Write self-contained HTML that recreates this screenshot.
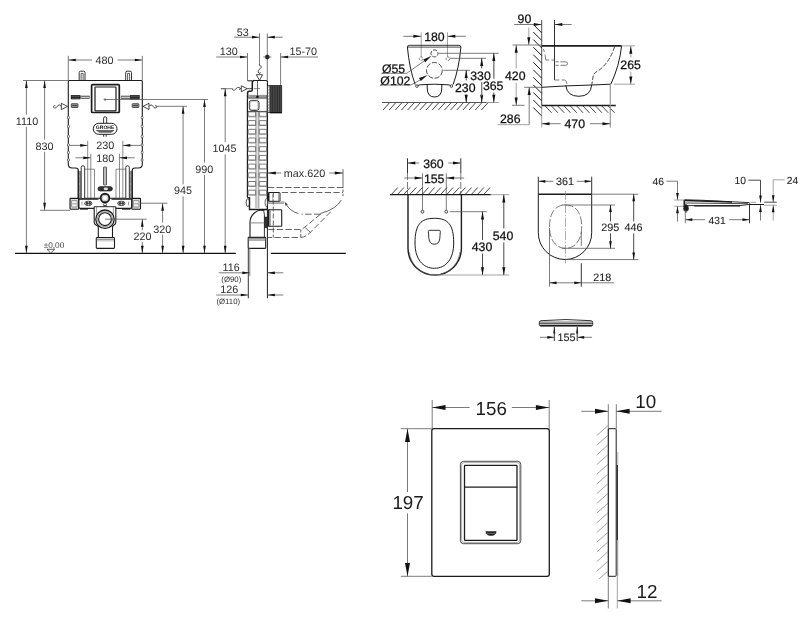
<!DOCTYPE html>
<html><head><meta charset="utf-8"><title>Dimensions</title>
<style>
html,body{margin:0;padding:0;background:#fff;}
body{width:804px;height:630px;overflow:hidden;}
svg{display:block;filter:grayscale(1);font-family:"Liberation Sans",sans-serif;}
text{text-rendering:geometricPrecision;}
</style></head><body>
<svg width="804" height="630" viewBox="0 0 804 630">
<rect x="0" y="0" width="804" height="630" fill="#ffffff"/>
<g id="v1">
<line x1="15.00" y1="253.30" x2="235.80" y2="253.30" stroke="#111" stroke-width="1.3" />
<line x1="270.80" y1="253.30" x2="345.80" y2="253.30" stroke="#111" stroke-width="1.3" />
<line x1="68.30" y1="55.80" x2="68.30" y2="80.50" stroke="#5a5a5a" stroke-width="0.8" />
<line x1="142.30" y1="55.80" x2="142.30" y2="80.50" stroke="#5a5a5a" stroke-width="0.8" />
<line x1="68.30" y1="60.00" x2="92.00" y2="60.00" stroke="#5a5a5a" stroke-width="0.8" />
<line x1="117.50" y1="60.00" x2="142.30" y2="60.00" stroke="#5a5a5a" stroke-width="0.8" />
<polygon points="68.30,60.00 75.80,58.65 75.80,61.35" fill="#111"/>
<polygon points="142.30,60.00 134.80,58.65 134.80,61.35" fill="#111"/>
<text x="104.60" y="63.77" font-size="10.8" text-anchor="middle" fill="#2e2e2e"  >480</text>
<path d="M69.3,80.5 H141.3 Q142.3,80.5 142.3,81.5 V164 Q142.3,168 138.3,168 H135 Q132.2,168 132.2,170.5 V198.3 H78.3 V170.5 Q78.3,168 75.5,168 H72.3 Q68.3,168 68.3,164 V81.5 Q68.3,80.5 69.3,80.5 Z" stroke="#1c1c1c" stroke-width="1.1" fill="none" />
<ellipse cx="68.5" cy="117.5" rx="1.0" ry="1.4" fill="#fff" stroke="#1c1c1c" stroke-width="0.6"/>
<ellipse cx="142.1" cy="117.5" rx="1.0" ry="1.4" fill="#fff" stroke="#1c1c1c" stroke-width="0.6"/>
<ellipse cx="68.5" cy="126.5" rx="1.0" ry="1.4" fill="#fff" stroke="#1c1c1c" stroke-width="0.6"/>
<ellipse cx="142.1" cy="126.5" rx="1.0" ry="1.4" fill="#fff" stroke="#1c1c1c" stroke-width="0.6"/>
<ellipse cx="68.5" cy="136.5" rx="1.0" ry="1.4" fill="#fff" stroke="#1c1c1c" stroke-width="0.6"/>
<ellipse cx="142.1" cy="136.5" rx="1.0" ry="1.4" fill="#fff" stroke="#1c1c1c" stroke-width="0.6"/>
<ellipse cx="68.5" cy="145" rx="1.0" ry="1.4" fill="#fff" stroke="#1c1c1c" stroke-width="0.6"/>
<ellipse cx="142.1" cy="145" rx="1.0" ry="1.4" fill="#fff" stroke="#1c1c1c" stroke-width="0.6"/>
<ellipse cx="68.5" cy="152.5" rx="1.0" ry="1.4" fill="#fff" stroke="#1c1c1c" stroke-width="0.6"/>
<ellipse cx="142.1" cy="152.5" rx="1.0" ry="1.4" fill="#fff" stroke="#1c1c1c" stroke-width="0.6"/>
<ellipse cx="68.5" cy="160" rx="1.0" ry="1.4" fill="#fff" stroke="#1c1c1c" stroke-width="0.6"/>
<ellipse cx="142.1" cy="160" rx="1.0" ry="1.4" fill="#fff" stroke="#1c1c1c" stroke-width="0.6"/>
<path d="M79.2,80.5 V72.5 Q79.2,71.2 80.5,71.2 H83.7 Q85.0,71.2 85.0,72.5 V80.5" stroke="#1c1c1c" stroke-width="0.9" fill="none" />
<path d="M81.10000000000001,80 V73.4 H83.10000000000001 V80" stroke="#1c1c1c" stroke-width="0.7" fill="none" />
<path d="M125.7,80.5 V72.5 Q125.7,71.2 127.0,71.2 H130.2 Q131.5,71.2 131.5,72.5 V80.5" stroke="#1c1c1c" stroke-width="0.9" fill="none" />
<path d="M127.60000000000001,80 V73.4 H129.6 V80" stroke="#1c1c1c" stroke-width="0.7" fill="none" />
<rect x="91.60" y="84.60" width="27.70" height="27.90" rx="1.0" stroke="#1c1c1c" stroke-width="1.7" fill="#fff" />
<rect x="95.00" y="87.00" width="21.00" height="23.90" rx="0.6" stroke="#1c1c1c" stroke-width="1.2" fill="#fff" />
<line x1="100.20" y1="85.60" x2="100.20" y2="86.40" stroke="#8a8a8a" stroke-width="0.6" />
<line x1="100.20" y1="111.20" x2="100.20" y2="111.90" stroke="#8a8a8a" stroke-width="0.6" />
<line x1="107.80" y1="85.60" x2="107.80" y2="86.40" stroke="#8a8a8a" stroke-width="0.6" />
<line x1="107.80" y1="111.20" x2="107.80" y2="111.90" stroke="#8a8a8a" stroke-width="0.6" />
<line x1="103.60" y1="99.50" x2="208.00" y2="99.50" stroke="#5a5a5a" stroke-width="0.8" />
<line x1="105.00" y1="98.00" x2="105.00" y2="101.00" stroke="#5a5a5a" stroke-width="0.8" />
<line x1="80.40" y1="97.20" x2="89.60" y2="97.20" stroke="#1c1c1c" stroke-width="2.9" />
<line x1="80.40" y1="97.20" x2="89.30" y2="97.20" stroke="#e8e8e8" stroke-width="1.3" />
<line x1="70.80" y1="97.20" x2="80.40" y2="97.20" stroke="#1a1a1a" stroke-width="4.2" />
<line x1="71.60" y1="96.40" x2="79.60" y2="96.40" stroke="#888" stroke-width="0.5" />
<line x1="71.60" y1="98.20" x2="79.60" y2="98.20" stroke="#888" stroke-width="0.5" />
<line x1="130.10" y1="97.20" x2="120.90" y2="97.20" stroke="#1c1c1c" stroke-width="2.9" />
<line x1="130.10" y1="97.20" x2="121.20" y2="97.20" stroke="#e8e8e8" stroke-width="1.3" />
<line x1="139.70" y1="97.20" x2="130.10" y2="97.20" stroke="#1a1a1a" stroke-width="4.2" />
<line x1="138.90" y1="96.40" x2="130.90" y2="96.40" stroke="#888" stroke-width="0.5" />
<line x1="138.90" y1="98.20" x2="130.90" y2="98.20" stroke="#888" stroke-width="0.5" />
<rect x="71.30" y="103.70" width="6.70" height="3.80" rx="0.6" stroke="#1c1c1c" stroke-width="0.7" fill="#999" />
<line x1="72.20" y1="105.60" x2="77.00" y2="105.60" stroke="#1c1c1c" stroke-width="0.7" />
<rect x="132.20" y="103.70" width="6.70" height="3.80" rx="0.6" stroke="#1c1c1c" stroke-width="0.7" fill="#999" />
<line x1="133.10" y1="105.60" x2="137.90" y2="105.60" stroke="#1c1c1c" stroke-width="0.7" />
<path d="M67.6,106.4 L61.3,103.3 V109.6 Z" stroke="#1c1c1c" stroke-width="0.8" fill="#fff" />
<path d="M61.3,106.4 C59.8,104.4 58.4,104.6 57.4,106.2 C56.4,108 54.4,108.6 53.6,107.4 C53,106.2 54.2,105.2 55.4,105.8" stroke="#1c1c1c" stroke-width="0.8" fill="none" />
<path d="M143,106.4 L149,103.3 V109.6 Z" stroke="#1c1c1c" stroke-width="0.8" fill="#fff" />
<path d="M149,106.4 C150.5,104.4 151.9,104.6 152.9,106.2 C153.9,108 155.9,108.6 156.7,107.4 C157.3,106.2 156.1,105.2 154.9,105.8" stroke="#1c1c1c" stroke-width="0.8" fill="none" />
<line x1="156.40" y1="106.30" x2="187.00" y2="106.30" stroke="#5a5a5a" stroke-width="0.8" />
<path d="M103.6,123.3 V118.2 Q103.6,116.8 105.1,116.8 Q106.7,116.8 106.7,118.2 V123.3" stroke="#1c1c1c" stroke-width="0.9" fill="#fff" />
<line x1="103.70" y1="134.20" x2="103.70" y2="136.80" stroke="#1c1c1c" stroke-width="0.9" />
<line x1="106.20" y1="134.20" x2="106.20" y2="136.80" stroke="#1c1c1c" stroke-width="0.9" />
<rect x="93.30" y="123.30" width="23.70" height="11.00" rx="5.4" stroke="#1c1c1c" stroke-width="1.0" fill="#fff" />
<text x="105.10" y="128.79" font-size="5.0" text-anchor="middle" fill="#111"  font-weight="bold" textLength="18.6" lengthAdjust="spacingAndGlyphs">GROHE</text>
<path d="M96.4,130.4 H113.9 L111.2,132.2 H99.4 Z" stroke="#1c1c1c" stroke-width="0.5" fill="#333" />
<line x1="98.00" y1="131.30" x2="112.40" y2="131.30" stroke="#ddd" stroke-width="0.35" />
<line x1="87.70" y1="140.80" x2="87.70" y2="198.00" stroke="#5a5a5a" stroke-width="0.7" />
<line x1="122.80" y1="140.80" x2="122.80" y2="198.00" stroke="#5a5a5a" stroke-width="0.7" />
<line x1="70.00" y1="145.40" x2="87.70" y2="145.40" stroke="#5a5a5a" stroke-width="0.8" />
<line x1="122.80" y1="145.40" x2="140.80" y2="145.40" stroke="#5a5a5a" stroke-width="0.8" />
<polygon points="87.70,145.40 80.20,144.05 80.20,146.75" fill="#111"/>
<polygon points="122.80,145.40 130.30,144.05 130.30,146.75" fill="#111"/>
<text x="105.20" y="149.47" font-size="10.8" text-anchor="middle" fill="#2e2e2e"  >230</text>
<line x1="90.80" y1="153.80" x2="90.80" y2="198.00" stroke="#5a5a5a" stroke-width="0.7" />
<line x1="119.50" y1="153.80" x2="119.50" y2="198.00" stroke="#5a5a5a" stroke-width="0.7" />
<line x1="75.50" y1="157.80" x2="90.80" y2="157.80" stroke="#5a5a5a" stroke-width="0.8" />
<line x1="119.50" y1="157.80" x2="134.70" y2="157.80" stroke="#5a5a5a" stroke-width="0.8" />
<polygon points="90.80,157.80 83.30,156.45 83.30,159.15" fill="#111"/>
<polygon points="119.50,157.80 127.00,156.45 127.00,159.15" fill="#111"/>
<text x="105.30" y="161.87" font-size="10.8" text-anchor="middle" fill="#2e2e2e"  >180</text>
<rect x="78.30" y="171.00" width="2.70" height="27.00" rx="0" stroke="none" stroke-width="0" fill="#8c8c8c" />
<line x1="78.30" y1="170.50" x2="78.30" y2="198.00" stroke="#1c1c1c" stroke-width="1.2" />
<circle cx="79.70" cy="176.00" r="0.45" stroke="none" stroke-width="0" fill="#fff" />
<circle cx="79.70" cy="184.00" r="0.45" stroke="none" stroke-width="0" fill="#fff" />
<circle cx="79.70" cy="192.00" r="0.45" stroke="none" stroke-width="0" fill="#fff" />
<path d="M81.2,198 V167.4 Q81.2,165.8 82.95,165.8 Q84.7,165.8 84.7,167.4 V198" stroke="#1c1c1c" stroke-width="0.9" fill="#fff" />
<line x1="94.50" y1="169.20" x2="94.50" y2="198.00" stroke="#5a5a5a" stroke-width="0.7" />
<line x1="84.70" y1="169.20" x2="94.50" y2="169.20" stroke="#5a5a5a" stroke-width="0.7" />
<rect x="129.50" y="171.00" width="2.70" height="27.00" rx="0" stroke="none" stroke-width="0" fill="#8c8c8c" />
<line x1="132.20" y1="170.50" x2="132.20" y2="198.00" stroke="#1c1c1c" stroke-width="1.2" />
<circle cx="130.80" cy="176.00" r="0.45" stroke="none" stroke-width="0" fill="#fff" />
<circle cx="130.80" cy="184.00" r="0.45" stroke="none" stroke-width="0" fill="#fff" />
<circle cx="130.80" cy="192.00" r="0.45" stroke="none" stroke-width="0" fill="#fff" />
<path d="M129.29999999999998,198 V167.4 Q129.29999999999998,165.8 127.54999999999998,165.8 Q125.79999999999998,165.8 125.79999999999998,167.4 V198" stroke="#1c1c1c" stroke-width="0.9" fill="#fff" />
<line x1="116.00" y1="169.20" x2="116.00" y2="198.00" stroke="#5a5a5a" stroke-width="0.7" />
<line x1="125.80" y1="169.20" x2="116.00" y2="169.20" stroke="#5a5a5a" stroke-width="0.7" />
<rect x="103.50" y="167.00" width="3.00" height="18.00" rx="0.5" stroke="#1c1c1c" stroke-width="0.7" fill="#e4e4e4" />
<line x1="105.00" y1="167.50" x2="105.00" y2="184.60" stroke="#5a5a5a" stroke-width="0.6" />
<rect x="98.00" y="186.70" width="14.40" height="4.20" rx="2.1" stroke="#1c1c1c" stroke-width="0.8" fill="#333" />
<rect x="104.00" y="187.70" width="3.60" height="2.20" rx="0.6" stroke="#fff" stroke-width="0.3" fill="#ddd" />
<circle cx="105.00" cy="198.00" r="4.30" stroke="#1c1c1c" stroke-width="1.9" fill="#fff" />
<circle cx="105.00" cy="198.00" r="2.60" stroke="#8a8a8a" stroke-width="0.5" fill="#fff" />
<rect x="70.00" y="198.40" width="8.70" height="10.80" rx="0.6" stroke="#1c1c1c" stroke-width="1.1" fill="#d8d8d8" />
<rect x="131.80" y="198.40" width="8.70" height="10.80" rx="0.6" stroke="#1c1c1c" stroke-width="1.1" fill="#d8d8d8" />
<rect x="71.60" y="200.60" width="5.50" height="6.40" rx="0.4" stroke="#5a5a5a" stroke-width="0.6" fill="#f2f2f2" />
<line x1="72.50" y1="203.80" x2="76.20" y2="203.80" stroke="#5a5a5a" stroke-width="0.6" />
<rect x="133.40" y="200.60" width="5.50" height="6.40" rx="0.4" stroke="#5a5a5a" stroke-width="0.6" fill="#f2f2f2" />
<line x1="134.30" y1="203.80" x2="138.00" y2="203.80" stroke="#5a5a5a" stroke-width="0.6" />
<path d="M78.7,199.2 H98.5 M111.5,199.2 H131.8 V207 Q131.8,208.4 130.2,208.4 H116 M94,208.4 H80.3 Q78.7,208.4 78.7,207 V199.2" stroke="#1c1c1c" stroke-width="1.2" fill="none" />
<line x1="80.00" y1="209.30" x2="88.00" y2="209.30" stroke="#1c1c1c" stroke-width="0.8" />
<line x1="122.00" y1="209.30" x2="130.50" y2="209.30" stroke="#1c1c1c" stroke-width="0.8" />
<ellipse cx="88.3" cy="203.4" rx="3.7" ry="2.2" fill="#fff" stroke="#1c1c1c" stroke-width="0.8"/>
<circle cx="87.00" cy="203.40" r="1.10" stroke="#1c1c1c" stroke-width="0.6" fill="#444" />
<circle cx="89.70" cy="203.40" r="1.10" stroke="#1c1c1c" stroke-width="0.6" fill="#444" />
<ellipse cx="121.3" cy="203.4" rx="3.7" ry="2.2" fill="#fff" stroke="#1c1c1c" stroke-width="0.8"/>
<circle cx="120.00" cy="203.40" r="1.10" stroke="#1c1c1c" stroke-width="0.6" fill="#444" />
<circle cx="122.70" cy="203.40" r="1.10" stroke="#1c1c1c" stroke-width="0.6" fill="#444" />
<line x1="82.00" y1="201.60" x2="82.00" y2="205.40" stroke="#5a5a5a" stroke-width="0.6" />
<line x1="128.50" y1="201.60" x2="128.50" y2="205.40" stroke="#5a5a5a" stroke-width="0.6" />
<path d="M94.2,206.7 V222.5 Q94.2,224 96,225 L98.3,226.5 V237.5 M115.8,206.7 V222.5 Q115.8,224 114,225 L112.5,226.5 V237.5" stroke="#1c1c1c" stroke-width="1.1" fill="none" />
<line x1="96.60" y1="206.70" x2="96.60" y2="214.00" stroke="#5a5a5a" stroke-width="0.6" />
<line x1="113.40" y1="206.70" x2="113.40" y2="214.00" stroke="#5a5a5a" stroke-width="0.6" />
<line x1="94.20" y1="206.70" x2="115.80" y2="206.70" stroke="#1c1c1c" stroke-width="0.9" />
<circle cx="105.00" cy="204.60" r="1.50" stroke="#1c1c1c" stroke-width="0.7" fill="#fff" />
<path d="M102.6,206.6 q2.4,-2.2 4.8,0" stroke="#1c1c1c" stroke-width="0.7" fill="none" />
<circle cx="105.00" cy="219.20" r="9.20" stroke="#1c1c1c" stroke-width="1.3" fill="#fff" />
<circle cx="105.00" cy="219.20" r="7.60" stroke="#5a5a5a" stroke-width="0.6" fill="none" />
<circle cx="105.00" cy="219.20" r="6.40" stroke="#1c1c1c" stroke-width="1.1" fill="#fff" />
<rect x="96.30" y="237.50" width="18.20" height="10.90" rx="0.8" stroke="#1c1c1c" stroke-width="1.1" fill="#fff" />
<line x1="96.30" y1="239.20" x2="114.50" y2="239.20" stroke="#5a5a5a" stroke-width="0.9" />
<line x1="96.80" y1="240.80" x2="114.00" y2="240.80" stroke="#8a8a8a" stroke-width="0.6" />
<line x1="105.00" y1="219.20" x2="146.70" y2="219.20" stroke="#5a5a5a" stroke-width="0.8" />
<line x1="142.30" y1="219.20" x2="142.30" y2="230.20" stroke="#5a5a5a" stroke-width="0.8" />
<line x1="142.30" y1="242.20" x2="142.30" y2="253.30" stroke="#5a5a5a" stroke-width="0.8" />
<polygon points="142.30,219.20 140.95,226.70 143.65,226.70" fill="#111"/>
<polygon points="142.30,253.30 140.95,245.80 143.65,245.80" fill="#111"/>
<text x="142.40" y="240.47" font-size="10.8" text-anchor="middle" fill="#2e2e2e"  >220</text>
<line x1="140.50" y1="203.20" x2="167.50" y2="203.20" stroke="#5a5a5a" stroke-width="0.8" />
<line x1="162.60" y1="203.20" x2="162.60" y2="222.60" stroke="#5a5a5a" stroke-width="0.8" />
<line x1="162.60" y1="234.60" x2="162.60" y2="253.30" stroke="#5a5a5a" stroke-width="0.8" />
<polygon points="162.60,203.20 161.25,210.70 163.95,210.70" fill="#111"/>
<polygon points="162.60,253.30 161.25,245.80 163.95,245.80" fill="#111"/>
<text x="162.20" y="232.67" font-size="10.8" text-anchor="middle" fill="#2e2e2e"  >320</text>
<line x1="23.00" y1="80.50" x2="68.30" y2="80.50" stroke="#5a5a5a" stroke-width="0.8" />
<line x1="40.00" y1="210.30" x2="70.00" y2="210.30" stroke="#5a5a5a" stroke-width="0.8" />
<line x1="44.60" y1="80.50" x2="44.60" y2="139.60" stroke="#5a5a5a" stroke-width="0.8" />
<line x1="44.60" y1="151.80" x2="44.60" y2="210.30" stroke="#5a5a5a" stroke-width="0.8" />
<polygon points="44.60,80.50 43.25,88.00 45.95,88.00" fill="#111"/>
<polygon points="44.60,210.30 43.25,202.80 45.95,202.80" fill="#111"/>
<text x="44.60" y="149.67" font-size="10.8" text-anchor="middle" fill="#2e2e2e"  >830</text>
<line x1="26.40" y1="80.50" x2="26.40" y2="114.60" stroke="#5a5a5a" stroke-width="0.8" />
<line x1="26.40" y1="126.80" x2="26.40" y2="253.30" stroke="#5a5a5a" stroke-width="0.8" />
<polygon points="26.40,80.50 25.05,88.00 27.75,88.00" fill="#111"/>
<polygon points="26.40,253.30 25.05,245.80 27.75,245.80" fill="#111"/>
<text x="27.00" y="124.67" font-size="10.8" text-anchor="middle" fill="#2e2e2e"  >1110</text>
<text x="54.00" y="248.17" font-size="8.3" text-anchor="middle" fill="#444"  >±0,00</text>
<path d="M47,249.3 H54.6 L50.8,253 Z" stroke="#1c1c1c" stroke-width="0.7" fill="#fff" />
<line x1="183.10" y1="106.30" x2="183.10" y2="184.40" stroke="#5a5a5a" stroke-width="0.8" />
<line x1="183.10" y1="196.40" x2="183.10" y2="253.30" stroke="#5a5a5a" stroke-width="0.8" />
<polygon points="183.10,106.30 181.75,113.80 184.45,113.80" fill="#111"/>
<polygon points="183.10,253.30 181.75,245.80 184.45,245.80" fill="#111"/>
<text x="182.90" y="194.37" font-size="10.8" text-anchor="middle" fill="#2e2e2e"  >945</text>
<line x1="204.50" y1="99.50" x2="204.50" y2="162.60" stroke="#5a5a5a" stroke-width="0.8" />
<line x1="204.50" y1="174.80" x2="204.50" y2="253.30" stroke="#5a5a5a" stroke-width="0.8" />
<polygon points="204.50,99.50 203.15,107.00 205.85,107.00" fill="#111"/>
<polygon points="204.50,253.30 203.15,245.80 205.85,245.80" fill="#111"/>
<text x="204.30" y="172.67" font-size="10.8" text-anchor="middle" fill="#2e2e2e"  >990</text>
</g>
<g id="v2">
<line x1="234.20" y1="37.20" x2="259.50" y2="37.20" stroke="#5a5a5a" stroke-width="0.8" />
<polygon points="259.50,37.20 252.00,35.85 252.00,38.55" fill="#111"/>
<line x1="267.30" y1="37.20" x2="282.80" y2="37.20" stroke="#5a5a5a" stroke-width="0.8" />
<polygon points="267.30,37.20 274.80,35.85 274.80,38.55" fill="#111"/>
<line x1="259.50" y1="33.30" x2="259.50" y2="64.20" stroke="#5a5a5a" stroke-width="0.8" />
<line x1="267.30" y1="33.30" x2="267.30" y2="95.00" stroke="#5a5a5a" stroke-width="0.8" />
<text x="242.70" y="35.87" font-size="10.8" text-anchor="middle" fill="#2e2e2e"  >53</text>
<line x1="216.20" y1="57.00" x2="247.50" y2="57.00" stroke="#5a5a5a" stroke-width="0.8" />
<polygon points="247.50,57.00 240.00,55.65 240.00,58.35" fill="#111"/>
<line x1="247.50" y1="53.00" x2="247.50" y2="80.80" stroke="#5a5a5a" stroke-width="0.8" />
<text x="228.70" y="55.47" font-size="10.8" text-anchor="middle" fill="#2e2e2e"  >130</text>
<circle cx="267.30" cy="57.00" r="2.10" stroke="#1c1c1c" stroke-width="0.5" fill="#111" />
<line x1="263.20" y1="57.00" x2="271.40" y2="57.00" stroke="#5a5a5a" stroke-width="0.7" />
<line x1="280.60" y1="57.00" x2="318.00" y2="57.00" stroke="#5a5a5a" stroke-width="0.8" />
<polygon points="280.60,57.00 288.10,55.65 288.10,58.35" fill="#111"/>
<line x1="280.60" y1="53.00" x2="280.60" y2="85.80" stroke="#5a5a5a" stroke-width="0.8" />
<text x="303.30" y="55.27" font-size="10.8" text-anchor="middle" fill="#2e2e2e"  >15-70</text>
<path d="M259.5,64.2 V65.4 C261.6,65.6 261.8,67.6 260.2,68.6 C258.4,69.8 257.6,71.6 258.6,73 C259.4,74 260.6,73.4 260.4,72.2" stroke="#1c1c1c" stroke-width="0.8" fill="none" />
<path d="M256.3,74.7 H262.6 L259.5,80.3 Z" stroke="#1c1c1c" stroke-width="0.8" fill="#fff" />
<line x1="221.20" y1="88.70" x2="232.50" y2="88.70" stroke="#5a5a5a" stroke-width="0.8" />
<path d="M232.5,88.7 C232.2,90.6 234.4,90.8 235.6,89.2 C236.8,87.4 238.6,86.8 239.8,87.8 C240.6,88.6 240,89.6 239,89.4 M240.2,88.7 H241.3" stroke="#1c1c1c" stroke-width="0.8" fill="none" />
<path d="M241.3,85.8 V91.7 L247.2,88.7 Z" stroke="#1c1c1c" stroke-width="0.8" fill="#fff" />
<line x1="247.20" y1="88.70" x2="253.00" y2="88.70" stroke="#1c1c1c" stroke-width="0.8" />
<path d="M247.5,80.8 H252 M254.2,80.5 H265.9 Q267.5,80.5 267.5,82.2 V95" stroke="#1c1c1c" stroke-width="1.0" fill="none" />
<path d="M254.4,80.5 Q252.3,80.5 252.3,82.4 V89.8 Q252.3,91.2 250.9,91.2 H249.2 Q247.6,91.2 247.6,92.8 V95" stroke="#1c1c1c" stroke-width="1.5" fill="none" />
<line x1="257.50" y1="80.60" x2="257.50" y2="98.00" stroke="#1c1c1c" stroke-width="0.7" />
<line x1="253.80" y1="88.60" x2="260.00" y2="88.60" stroke="#5a5a5a" stroke-width="0.7" />
<line x1="247.40" y1="95.00" x2="247.40" y2="197.60" stroke="#1c1c1c" stroke-width="1.2" />
<line x1="267.40" y1="95.00" x2="267.40" y2="298.30" stroke="#1c1c1c" stroke-width="1.0" />
<line x1="267.40" y1="95.00" x2="267.40" y2="209.00" stroke="#1c1c1c" stroke-width="1.3" />
<line x1="247.40" y1="95.40" x2="267.40" y2="95.40" stroke="#5a5a5a" stroke-width="0.7" />
<line x1="247.40" y1="98.60" x2="267.40" y2="98.60" stroke="#5a5a5a" stroke-width="0.7" />
<line x1="247.40" y1="97.05" x2="267.40" y2="97.05" stroke="#1c1c1c" stroke-width="1.0" />
<circle cx="257.40" cy="96.90" r="1.10" stroke="#1c1c1c" stroke-width="0.4" fill="#111" />
<rect x="249.30" y="100.40" width="9.70" height="10.00" rx="2.3" stroke="#1c1c1c" stroke-width="0.9" fill="#fff" />
<rect x="250.20" y="101.20" width="8.00" height="8.40" rx="1.8" stroke="#8a8a8a" stroke-width="0.5" fill="none" />
<line x1="256.00" y1="111.50" x2="256.00" y2="208.00" stroke="#5a5a5a" stroke-width="0.7" />
<line x1="258.80" y1="111.50" x2="258.80" y2="208.00" stroke="#5a5a5a" stroke-width="0.7" />
<line x1="257.40" y1="98.60" x2="257.40" y2="208.00" stroke="#b5b5b5" stroke-width="0.5" />
<line x1="247.40" y1="111.40" x2="267.40" y2="111.40" stroke="#1c1c1c" stroke-width="0.8" />
<rect x="248.20" y="111.90" width="7.50" height="4.90" rx="0.3" stroke="#5a5a5a" stroke-width="0.8" fill="none" />
<rect x="259.20" y="111.90" width="7.60" height="4.90" rx="0.3" stroke="#5a5a5a" stroke-width="0.8" fill="none" />
<line x1="248.60" y1="116.20" x2="255.30" y2="116.20" stroke="#8a8a8a" stroke-width="0.6" />
<line x1="259.60" y1="116.20" x2="266.40" y2="116.20" stroke="#8a8a8a" stroke-width="0.6" />
<rect x="248.20" y="120.60" width="7.50" height="4.90" rx="0.3" stroke="#5a5a5a" stroke-width="0.8" fill="none" />
<rect x="259.20" y="120.60" width="7.60" height="4.90" rx="0.3" stroke="#5a5a5a" stroke-width="0.8" fill="none" />
<line x1="248.60" y1="124.90" x2="255.30" y2="124.90" stroke="#8a8a8a" stroke-width="0.6" />
<line x1="259.60" y1="124.90" x2="266.40" y2="124.90" stroke="#8a8a8a" stroke-width="0.6" />
<rect x="248.20" y="129.30" width="7.50" height="4.90" rx="0.3" stroke="#5a5a5a" stroke-width="0.8" fill="none" />
<rect x="259.20" y="129.30" width="7.60" height="4.90" rx="0.3" stroke="#5a5a5a" stroke-width="0.8" fill="none" />
<line x1="248.60" y1="133.60" x2="255.30" y2="133.60" stroke="#8a8a8a" stroke-width="0.6" />
<line x1="259.60" y1="133.60" x2="266.40" y2="133.60" stroke="#8a8a8a" stroke-width="0.6" />
<rect x="248.20" y="138.00" width="7.50" height="4.90" rx="0.3" stroke="#5a5a5a" stroke-width="0.8" fill="none" />
<rect x="259.20" y="138.00" width="7.60" height="4.90" rx="0.3" stroke="#5a5a5a" stroke-width="0.8" fill="none" />
<line x1="248.60" y1="142.30" x2="255.30" y2="142.30" stroke="#8a8a8a" stroke-width="0.6" />
<line x1="259.60" y1="142.30" x2="266.40" y2="142.30" stroke="#8a8a8a" stroke-width="0.6" />
<rect x="248.20" y="146.70" width="7.50" height="4.90" rx="0.3" stroke="#5a5a5a" stroke-width="0.8" fill="none" />
<rect x="259.20" y="146.70" width="7.60" height="4.90" rx="0.3" stroke="#5a5a5a" stroke-width="0.8" fill="none" />
<line x1="248.60" y1="151.00" x2="255.30" y2="151.00" stroke="#8a8a8a" stroke-width="0.6" />
<line x1="259.60" y1="151.00" x2="266.40" y2="151.00" stroke="#8a8a8a" stroke-width="0.6" />
<rect x="248.20" y="155.40" width="7.50" height="4.90" rx="0.3" stroke="#5a5a5a" stroke-width="0.8" fill="none" />
<rect x="259.20" y="155.40" width="7.60" height="4.90" rx="0.3" stroke="#5a5a5a" stroke-width="0.8" fill="none" />
<line x1="248.60" y1="159.70" x2="255.30" y2="159.70" stroke="#8a8a8a" stroke-width="0.6" />
<line x1="259.60" y1="159.70" x2="266.40" y2="159.70" stroke="#8a8a8a" stroke-width="0.6" />
<rect x="248.20" y="164.10" width="7.50" height="4.90" rx="0.3" stroke="#5a5a5a" stroke-width="0.8" fill="none" />
<rect x="259.20" y="164.10" width="7.60" height="4.90" rx="0.3" stroke="#5a5a5a" stroke-width="0.8" fill="none" />
<line x1="248.60" y1="168.40" x2="255.30" y2="168.40" stroke="#8a8a8a" stroke-width="0.6" />
<line x1="259.60" y1="168.40" x2="266.40" y2="168.40" stroke="#8a8a8a" stroke-width="0.6" />
<rect x="248.20" y="172.80" width="7.50" height="4.90" rx="0.3" stroke="#5a5a5a" stroke-width="0.8" fill="none" />
<rect x="259.20" y="172.80" width="7.60" height="4.90" rx="0.3" stroke="#5a5a5a" stroke-width="0.8" fill="none" />
<line x1="248.60" y1="177.10" x2="255.30" y2="177.10" stroke="#8a8a8a" stroke-width="0.6" />
<line x1="259.60" y1="177.10" x2="266.40" y2="177.10" stroke="#8a8a8a" stroke-width="0.6" />
<rect x="248.20" y="181.50" width="7.50" height="4.90" rx="0.3" stroke="#5a5a5a" stroke-width="0.8" fill="none" />
<rect x="259.20" y="181.50" width="7.60" height="4.90" rx="0.3" stroke="#5a5a5a" stroke-width="0.8" fill="none" />
<line x1="248.60" y1="185.80" x2="255.30" y2="185.80" stroke="#8a8a8a" stroke-width="0.6" />
<line x1="259.60" y1="185.80" x2="266.40" y2="185.80" stroke="#8a8a8a" stroke-width="0.6" />
<rect x="248.20" y="190.20" width="7.50" height="4.90" rx="0.3" stroke="#5a5a5a" stroke-width="0.8" fill="none" />
<rect x="259.20" y="190.20" width="7.60" height="4.90" rx="0.3" stroke="#5a5a5a" stroke-width="0.8" fill="none" />
<line x1="248.60" y1="194.50" x2="255.30" y2="194.50" stroke="#8a8a8a" stroke-width="0.6" />
<line x1="259.60" y1="194.50" x2="266.40" y2="194.50" stroke="#8a8a8a" stroke-width="0.6" />
<rect x="267.50" y="85.60" width="2.60" height="27.00" rx="0" stroke="#1c1c1c" stroke-width="0.7" fill="#fff" />
<line x1="268.80" y1="86.00" x2="268.80" y2="112.40" stroke="#5a5a5a" stroke-width="0.5" stroke-dasharray="2 1"/>
<rect x="270.00" y="85.60" width="11.70" height="27.20" rx="0" stroke="#222" stroke-width="0.8" fill="#474747" />
<line x1="272.40" y1="86.00" x2="272.40" y2="112.60" stroke="#2a2a2a" stroke-width="0.8" />
<line x1="274.90" y1="86.00" x2="274.90" y2="112.60" stroke="#2a2a2a" stroke-width="0.8" />
<line x1="277.40" y1="86.00" x2="277.40" y2="112.60" stroke="#2a2a2a" stroke-width="0.8" />
<line x1="279.60" y1="86.00" x2="279.60" y2="112.60" stroke="#2a2a2a" stroke-width="0.8" />
<line x1="270.00" y1="112.60" x2="281.70" y2="112.60" stroke="#111" stroke-width="1.2" />
<ellipse cx="247.9" cy="202.6" rx="1.8" ry="3.9" fill="#fff" stroke="#1c1c1c" stroke-width="0.8"/>
<path d="M247.4,197.6 H249.5 V209.5 H267.4" stroke="#1c1c1c" stroke-width="1.4" fill="none" />
<ellipse cx="266.3" cy="202.6" rx="1.2" ry="4" fill="#fff" stroke="#1c1c1c" stroke-width="0.7"/>
<rect x="268.50" y="192.50" width="11.50" height="8.80" rx="0.5" stroke="#1c1c1c" stroke-width="1.0" fill="#fff" />
<line x1="268.70" y1="192.50" x2="268.70" y2="201.30" stroke="#1c1c1c" stroke-width="1.6" />
<line x1="278.60" y1="192.60" x2="278.60" y2="201.20" stroke="#5a5a5a" stroke-width="0.6" />
<line x1="272.60" y1="194.00" x2="272.60" y2="201.00" stroke="#8a8a8a" stroke-width="0.6" />
<path d="M268,202 H284.6 M268,203.3 H284" stroke="#5a5a5a" stroke-width="0.7" fill="none" />
<rect x="268.50" y="209.70" width="13.20" height="16.60" rx="0.6" stroke="#1c1c1c" stroke-width="1.1" fill="#fff" />
<line x1="268.70" y1="209.70" x2="268.70" y2="226.30" stroke="#1c1c1c" stroke-width="1.5" />
<line x1="270.40" y1="210.00" x2="270.40" y2="226.00" stroke="#8a8a8a" stroke-width="0.8" />
<path d="M250,238 V222 A12.4,12.4 0 0 1 262.4,210 L264.5,210.2" stroke="#1c1c1c" stroke-width="1.1" fill="none" />
<path d="M264.4,238 V214.5 Q264.3,211 262.6,210.2" stroke="#1c1c1c" stroke-width="0.9" fill="none" />
<line x1="250.40" y1="222.90" x2="264.20" y2="222.90" stroke="#8a8a8a" stroke-width="1.0" />
<rect x="264.70" y="217.00" width="2.40" height="10.80" rx="0" stroke="#1c1c1c" stroke-width="0.5" fill="#333" />
<rect x="248.20" y="237.40" width="17.50" height="11.00" rx="0.6" stroke="#1c1c1c" stroke-width="1.1" fill="#fff" />
<line x1="248.60" y1="238.70" x2="265.40" y2="238.70" stroke="#999" stroke-width="1.6" />
<line x1="248.60" y1="240.20" x2="265.40" y2="240.20" stroke="#5a5a5a" stroke-width="0.7" />
<line x1="248.30" y1="248.40" x2="248.30" y2="298.30" stroke="#1c1c1c" stroke-width="0.9" />
<line x1="249.80" y1="248.40" x2="249.80" y2="276.00" stroke="#8a8a8a" stroke-width="1.0" />
<line x1="268.00" y1="187.50" x2="343.00" y2="187.50" stroke="#3c3c3c" stroke-width="0.8" stroke-dasharray="6.2 2.4"/>
<line x1="281.80" y1="192.50" x2="343.00" y2="192.50" stroke="#3c3c3c" stroke-width="0.8" stroke-dasharray="6.2 2.4"/>
<line x1="343.00" y1="169.20" x2="343.00" y2="188.00" stroke="#5a5a5a" stroke-width="0.9" />
<line x1="343.00" y1="189.50" x2="343.00" y2="196.00" stroke="#3c3c3c" stroke-width="0.8" stroke-dasharray="2.6 1.6"/>
<path d="M341.4,200 Q338.6,204.4 334.5,207.4 Q328,211.8 320.5,213.4" stroke="#3c3c3c" stroke-width="0.8" fill="none" />
<path d="M320.5,214.2 H301.6" stroke="#3c3c3c" stroke-width="0.8" fill="none" stroke-dasharray="6.5 2.4"/>
<path d="M298.5,213.6 Q289.8,211.2 285.6,203.4" stroke="#3c3c3c" stroke-width="0.8" fill="none" />
<polygon points="284.90,202.00 287.78,204.57 285.29,205.84" fill="#3c3c3c"/>
<path d="M320.8,214 L303.3,228.3 Q301.8,229.5 299.8,229.5 H268" stroke="#3c3c3c" stroke-width="0.8" fill="none" stroke-dasharray="6.2 2.4"/>
<path d="M330.8,211.7 L310.4,232.3 Q305.6,237.5 300,237.5 H268" stroke="#3c3c3c" stroke-width="0.8" fill="none" stroke-dasharray="6.2 2.4"/>
<line x1="305.20" y1="227.60" x2="310.60" y2="232.60" stroke="#3c3c3c" stroke-width="0.8" />
<line x1="273.30" y1="192.50" x2="273.30" y2="237.50" stroke="#3c3c3c" stroke-width="0.8" stroke-dasharray="5 2"/>
<line x1="300.80" y1="229.50" x2="300.80" y2="237.50" stroke="#3c3c3c" stroke-width="0.8" stroke-dasharray="3 1.5"/>
<line x1="267.60" y1="173.00" x2="281.00" y2="173.00" stroke="#5a5a5a" stroke-width="0.8" />
<polygon points="267.60,173.00 275.80,171.55 275.80,174.45" fill="#111"/>
<line x1="329.20" y1="173.00" x2="343.00" y2="173.00" stroke="#5a5a5a" stroke-width="0.8" />
<polygon points="343.00,173.00 334.80,171.55 334.80,174.45" fill="#111"/>
<text x="304.50" y="177.47" font-size="10.8" text-anchor="middle" fill="#2e2e2e"  >max.620</text>
<line x1="220.80" y1="88.70" x2="226.00" y2="88.70" stroke="#5a5a5a" stroke-width="0.8" />
<line x1="225.20" y1="88.70" x2="225.20" y2="142.20" stroke="#5a5a5a" stroke-width="0.8" />
<line x1="225.20" y1="154.40" x2="225.20" y2="253.30" stroke="#5a5a5a" stroke-width="0.8" />
<polygon points="225.20,88.70 223.85,96.20 226.55,96.20" fill="#111"/>
<polygon points="225.20,253.30 223.85,245.80 226.55,245.80" fill="#111"/>
<text x="224.60" y="152.27" font-size="10.8" text-anchor="middle" fill="#2e2e2e"  >1045</text>
<line x1="218.70" y1="272.80" x2="249.80" y2="272.80" stroke="#5a5a5a" stroke-width="0.8" />
<polygon points="249.80,272.80 242.30,271.45 242.30,274.15" fill="#111"/>
<line x1="267.40" y1="272.80" x2="283.30" y2="272.80" stroke="#5a5a5a" stroke-width="0.8" />
<polygon points="267.40,272.80 274.90,271.45 274.90,274.15" fill="#111"/>
<text x="231.20" y="270.77" font-size="10.8" text-anchor="middle" fill="#2e2e2e"  >116</text>
<text x="231.30" y="282.09" font-size="7.8" text-anchor="middle" fill="#333"  >(Ø90)</text>
<line x1="216.30" y1="295.00" x2="248.30" y2="295.00" stroke="#5a5a5a" stroke-width="0.8" />
<polygon points="248.30,295.00 240.80,293.65 240.80,296.35" fill="#111"/>
<line x1="267.40" y1="295.00" x2="283.30" y2="295.00" stroke="#5a5a5a" stroke-width="0.8" />
<polygon points="267.40,295.00 274.90,293.65 274.90,296.35" fill="#111"/>
<text x="229.20" y="293.07" font-size="10.8" text-anchor="middle" fill="#2e2e2e"  >126</text>
<text x="228.30" y="304.09" font-size="7.8" text-anchor="middle" fill="#333"  >(Ø110)</text>
</g>
<g id="v3">
<line x1="403.30" y1="36.30" x2="421.20" y2="36.30" stroke="#5a5a5a" stroke-width="0.8" />
<polygon points="421.20,36.30 413.40,34.75 413.40,37.85" fill="#111"/>
<line x1="447.50" y1="36.30" x2="465.80" y2="36.30" stroke="#5a5a5a" stroke-width="0.8" />
<polygon points="447.50,36.30 455.30,34.75 455.30,37.85" fill="#111"/>
<line x1="421.20" y1="32.50" x2="421.20" y2="57.20" stroke="#8a8a8a" stroke-width="0.8" />
<line x1="447.50" y1="32.50" x2="447.50" y2="57.20" stroke="#8a8a8a" stroke-width="0.8" />
<text x="434.40" y="41.20" font-size="12.3" text-anchor="middle" fill="#111" stroke="#111" stroke-width="0.25" >180</text>
<path d="M409.2,45.3 H459.1 Q460.9,45.3 460.9,47.2 M407.4,47.2 Q407.4,45.3 409.2,45.3" stroke="#1c1c1c" stroke-width="0.9" fill="none" />
<line x1="407.80" y1="47.10" x2="460.50" y2="47.10" stroke="#1c1c1c" stroke-width="0.8" />
<path d="M407.4,47 Q409.2,68 415.2,84.6" stroke="#1c1c1c" stroke-width="1.0" fill="none" />
<path d="M460.9,47 Q459.1,68 453.1,84.6" stroke="#1c1c1c" stroke-width="1.0" fill="none" />
<circle cx="416.90" cy="86.10" r="1.30" stroke="#1c1c1c" stroke-width="0.8" fill="#fff" />
<circle cx="451.40" cy="86.10" r="1.30" stroke="#1c1c1c" stroke-width="0.8" fill="#fff" />
<path d="M418,85.4 Q419,84.9 420.4,84.8 Q434.2,83.6 448,84.8 Q449.4,84.9 450.3,85.4" stroke="#1c1c1c" stroke-width="1.0" fill="none" />
<path d="M427.2,84.4 V88 Q427.2,97 434.5,97 Q441.8,97 441.8,88 V84.4" stroke="#1c1c1c" stroke-width="1.0" fill="none" />
<circle cx="421.10" cy="58.70" r="1.80" stroke="#5a5a5a" stroke-width="0.8" fill="#fff" stroke-dasharray="2.4 1.1"/>
<circle cx="447.90" cy="58.70" r="1.80" stroke="#5a5a5a" stroke-width="0.8" fill="#fff" stroke-dasharray="2.4 1.1"/>
<circle cx="434.50" cy="53.40" r="3.50" stroke="#1c1c1c" stroke-width="0.8" fill="#fff" stroke-dasharray="4.2 1.3" stroke-dashoffset="2"/>
<circle cx="434.40" cy="70.40" r="7.90" stroke="#1c1c1c" stroke-width="0.8" fill="#fff" stroke-dasharray="5.2 1.7"/>
<text x="393.60" y="73.30" font-size="12.3" text-anchor="middle" fill="#111" stroke="#111" stroke-width="0.25" >Ø55</text>
<path d="M381.3,73.3 H406.7 L427,59" stroke="#5a5a5a" stroke-width="0.8" fill="none" />
<polygon points="431.60,55.70 425.26,62.32 423.24,59.47" fill="#1c1c1c"/>
<text x="395.40" y="85.00" font-size="12.3" text-anchor="middle" fill="#111" stroke="#111" stroke-width="0.25" >Ø102</text>
<path d="M380,85 H410.8 L422,79" stroke="#5a5a5a" stroke-width="0.8" fill="none" />
<polygon points="427.60,74.90 420.79,81.04 418.98,78.04" fill="#1c1c1c"/>
<line x1="382.00" y1="102.50" x2="486.00" y2="102.50" stroke="#5a5a5a" stroke-width="1.0" />
<line x1="486.00" y1="102.50" x2="499.20" y2="102.50" stroke="#8a8a8a" stroke-width="0.8" />
<line x1="383.00" y1="110.00" x2="389.60" y2="102.70" stroke="#1c1c1c" stroke-width="0.8" />
<line x1="389.15" y1="110.00" x2="395.75" y2="102.70" stroke="#1c1c1c" stroke-width="0.8" />
<line x1="395.30" y1="110.00" x2="401.90" y2="102.70" stroke="#1c1c1c" stroke-width="0.8" />
<line x1="401.45" y1="110.00" x2="408.05" y2="102.70" stroke="#1c1c1c" stroke-width="0.8" />
<line x1="407.60" y1="110.00" x2="414.20" y2="102.70" stroke="#1c1c1c" stroke-width="0.8" />
<line x1="413.75" y1="110.00" x2="420.35" y2="102.70" stroke="#1c1c1c" stroke-width="0.8" />
<line x1="419.90" y1="110.00" x2="426.50" y2="102.70" stroke="#1c1c1c" stroke-width="0.8" />
<line x1="426.05" y1="110.00" x2="432.65" y2="102.70" stroke="#1c1c1c" stroke-width="0.8" />
<line x1="432.20" y1="110.00" x2="438.80" y2="102.70" stroke="#1c1c1c" stroke-width="0.8" />
<line x1="438.35" y1="110.00" x2="444.95" y2="102.70" stroke="#1c1c1c" stroke-width="0.8" />
<line x1="444.50" y1="110.00" x2="451.10" y2="102.70" stroke="#1c1c1c" stroke-width="0.8" />
<line x1="450.65" y1="110.00" x2="457.25" y2="102.70" stroke="#1c1c1c" stroke-width="0.8" />
<line x1="456.80" y1="110.00" x2="463.40" y2="102.70" stroke="#1c1c1c" stroke-width="0.8" />
<line x1="462.95" y1="110.00" x2="469.55" y2="102.70" stroke="#1c1c1c" stroke-width="0.8" />
<line x1="469.10" y1="110.00" x2="475.70" y2="102.70" stroke="#1c1c1c" stroke-width="0.8" />
<line x1="475.25" y1="110.00" x2="481.85" y2="102.70" stroke="#1c1c1c" stroke-width="0.8" />
<line x1="481.40" y1="110.00" x2="488.00" y2="102.70" stroke="#1c1c1c" stroke-width="0.8" />
<line x1="443.30" y1="70.30" x2="470.00" y2="70.30" stroke="#5a5a5a" stroke-width="0.8" />
<line x1="466.20" y1="70.30" x2="466.20" y2="80.50" stroke="#1c1c1c" stroke-width="0.8" />
<line x1="466.20" y1="94.50" x2="466.20" y2="102.50" stroke="#1c1c1c" stroke-width="0.8" />
<polygon points="466.20,70.30 464.65,78.10 467.75,78.10" fill="#111"/>
<polygon points="466.20,102.50 464.65,94.70 467.75,94.70" fill="#111"/>
<text x="465.30" y="92.00" font-size="12.3" text-anchor="middle" fill="#111" stroke="#111" stroke-width="0.25" >230</text>
<line x1="450.00" y1="58.30" x2="486.30" y2="58.30" stroke="#5a5a5a" stroke-width="0.8" />
<line x1="481.70" y1="58.30" x2="481.70" y2="68.40" stroke="#1c1c1c" stroke-width="0.8" />
<line x1="481.70" y1="82.00" x2="481.70" y2="102.50" stroke="#1c1c1c" stroke-width="0.8" />
<polygon points="481.70,58.30 480.15,66.10 483.25,66.10" fill="#111"/>
<polygon points="481.70,102.50 480.15,94.70 483.25,94.70" fill="#111"/>
<line x1="481.70" y1="82.00" x2="481.70" y2="96.00" stroke="#8a8a8a" stroke-width="0.8" />
<text x="480.50" y="79.80" font-size="12.3" text-anchor="middle" fill="#111" stroke="#111" stroke-width="0.25" >330</text>
<line x1="438.60" y1="53.30" x2="498.70" y2="53.30" stroke="#5a5a5a" stroke-width="0.8" />
<line x1="493.80" y1="53.30" x2="493.80" y2="78.50" stroke="#1c1c1c" stroke-width="0.8" />
<line x1="493.80" y1="92.50" x2="493.80" y2="102.50" stroke="#1c1c1c" stroke-width="0.8" />
<polygon points="493.80,53.30 492.25,61.10 495.35,61.10" fill="#111"/>
<polygon points="493.80,102.50 492.25,94.70 495.35,94.70" fill="#111"/>
<line x1="493.80" y1="61.00" x2="493.80" y2="79.00" stroke="#8a8a8a" stroke-width="0.8" />
<text x="493.20" y="89.80" font-size="12.3" text-anchor="middle" fill="#111" stroke="#111" stroke-width="0.25" >365</text>
</g>
<g id="v4">
<line x1="541.70" y1="20.00" x2="541.70" y2="105.50" stroke="#3a3a3a" stroke-width="0.9" />
<line x1="541.70" y1="105.50" x2="541.70" y2="127.50" stroke="#8a8a8a" stroke-width="0.8" />
<line x1="533.30" y1="24.50" x2="541.70" y2="32.90" stroke="#1c1c1c" stroke-width="1.0" />
<line x1="533.30" y1="32.05" x2="541.70" y2="40.45" stroke="#1c1c1c" stroke-width="1.0" />
<line x1="533.30" y1="39.60" x2="541.70" y2="48.00" stroke="#1c1c1c" stroke-width="1.0" />
<line x1="533.30" y1="47.15" x2="541.70" y2="55.55" stroke="#1c1c1c" stroke-width="1.0" />
<line x1="533.30" y1="54.70" x2="541.70" y2="63.10" stroke="#1c1c1c" stroke-width="1.0" />
<line x1="533.30" y1="62.25" x2="541.70" y2="70.65" stroke="#1c1c1c" stroke-width="1.0" />
<line x1="533.30" y1="69.80" x2="541.70" y2="78.20" stroke="#1c1c1c" stroke-width="1.0" />
<line x1="533.30" y1="77.35" x2="541.70" y2="85.75" stroke="#1c1c1c" stroke-width="1.0" />
<line x1="533.30" y1="84.90" x2="541.70" y2="93.30" stroke="#1c1c1c" stroke-width="1.0" />
<line x1="533.30" y1="92.45" x2="541.70" y2="100.85" stroke="#1c1c1c" stroke-width="1.0" />
<line x1="533.30" y1="100.00" x2="541.70" y2="108.40" stroke="#1c1c1c" stroke-width="1.0" />
<line x1="533.30" y1="107.55" x2="541.70" y2="115.95" stroke="#1c1c1c" stroke-width="1.0" />
<line x1="514.20" y1="24.50" x2="541.70" y2="24.50" stroke="#5a5a5a" stroke-width="0.8" />
<polygon points="541.70,24.50 533.90,22.95 533.90,26.05" fill="#111"/>
<line x1="554.50" y1="20.00" x2="554.50" y2="80.00" stroke="#1c1c1c" stroke-width="0.9" />
<line x1="554.50" y1="24.50" x2="571.70" y2="24.50" stroke="#5a5a5a" stroke-width="0.8" />
<polygon points="554.50,24.50 562.30,22.95 562.30,26.05" fill="#111"/>
<text x="524.40" y="23.10" font-size="12.3" text-anchor="middle" fill="#111" stroke="#111" stroke-width="0.25" >90</text>
<line x1="528.80" y1="27.50" x2="528.80" y2="45.00" stroke="#8a8a8a" stroke-width="0.8" />
<polygon points="528.80,45.00 527.25,37.20 530.35,37.20" fill="#111"/>
<line x1="512.50" y1="45.00" x2="541.70" y2="45.00" stroke="#5a5a5a" stroke-width="0.8" />
<line x1="512.00" y1="105.30" x2="524.50" y2="105.30" stroke="#5a5a5a" stroke-width="0.8" />
<line x1="516.20" y1="45.00" x2="516.20" y2="68.60" stroke="#8a8a8a" stroke-width="0.8" />
<line x1="516.20" y1="83.00" x2="516.20" y2="105.30" stroke="#8a8a8a" stroke-width="0.8" />
<polygon points="516.20,45.00 514.65,52.80 517.75,52.80" fill="#111"/>
<polygon points="516.20,105.30 514.65,97.50 517.75,97.50" fill="#111"/>
<text x="515.30" y="80.30" font-size="12.3" text-anchor="middle" fill="#111" stroke="#111" stroke-width="0.25" >420</text>
<line x1="524.20" y1="87.30" x2="541.70" y2="87.30" stroke="#5a5a5a" stroke-width="0.8" />
<line x1="529.20" y1="87.30" x2="529.20" y2="124.70" stroke="#5a5a5a" stroke-width="0.8" />
<polygon points="529.20,87.30 527.65,95.10 530.75,95.10" fill="#111"/>
<line x1="497.50" y1="124.70" x2="529.20" y2="124.70" stroke="#8a8a8a" stroke-width="0.8" />
<text x="510.30" y="123.20" font-size="12.3" text-anchor="middle" fill="#111" stroke="#111" stroke-width="0.25" >286</text>
<line x1="541.70" y1="45.90" x2="621.60" y2="45.90" stroke="#1c1c1c" stroke-width="1.7" />
<path d="M621.6,46 Q619.4,66 610.8,84.2" stroke="#1c1c1c" stroke-width="1.0" fill="none" />
<path d="M541.7,87.3 L566,85.9 L591.6,85 L610.8,84.2" stroke="#1c1c1c" stroke-width="1.0" fill="none" />
<path d="M565.8,85.4 Q567,96.3 578.8,96.3 Q590.8,96.3 591.7,84.8" stroke="#1c1c1c" stroke-width="1.0" fill="none" />
<path d="M614.6,46.6 Q610,62 598.6,70.6 Q593.6,72.8 593.2,76 L591.8,84.6" stroke="#1c1c1c" stroke-width="0.8" fill="none" stroke-dasharray="4.5 1.6"/>
<path d="M543.4,49 L544.4,52 M545,54.6 L545.8,60 H549.2 M551.4,60 H554.3" stroke="#5a5a5a" stroke-width="0.8" fill="none" />
<path d="M554.5,80 H559.4 M561.6,80 H564.6 Q566.6,80.4 567,84" stroke="#5a5a5a" stroke-width="0.8" fill="none" />
<path d="M555.4,61.8 H558.8 M560.4,61.8 H565.6 Q567.6,61.9 567.5,63.5 Q567.6,65.2 565.6,65.3 H560.4 M558.8,65.3 H555.4" stroke="#5a5a5a" stroke-width="0.8" fill="none" />
<line x1="541.70" y1="105.50" x2="615.80" y2="105.50" stroke="#1c1c1c" stroke-width="1.5" />
<line x1="545.00" y1="105.80" x2="551.60" y2="112.80" stroke="#1c1c1c" stroke-width="0.8" />
<line x1="551.30" y1="105.80" x2="557.90" y2="112.80" stroke="#1c1c1c" stroke-width="0.8" />
<line x1="557.60" y1="105.80" x2="564.20" y2="112.80" stroke="#1c1c1c" stroke-width="0.8" />
<line x1="563.90" y1="105.80" x2="570.50" y2="112.80" stroke="#1c1c1c" stroke-width="0.8" />
<line x1="570.20" y1="105.80" x2="576.80" y2="112.80" stroke="#1c1c1c" stroke-width="0.8" />
<line x1="576.50" y1="105.80" x2="583.10" y2="112.80" stroke="#1c1c1c" stroke-width="0.8" />
<line x1="582.80" y1="105.80" x2="589.40" y2="112.80" stroke="#1c1c1c" stroke-width="0.8" />
<line x1="589.10" y1="105.80" x2="595.70" y2="112.80" stroke="#1c1c1c" stroke-width="0.8" />
<line x1="595.40" y1="105.80" x2="602.00" y2="112.80" stroke="#1c1c1c" stroke-width="0.8" />
<line x1="601.70" y1="105.80" x2="608.30" y2="112.80" stroke="#1c1c1c" stroke-width="0.8" />
<line x1="608.00" y1="105.80" x2="614.60" y2="112.80" stroke="#1c1c1c" stroke-width="0.8" />
<line x1="610.30" y1="84.20" x2="610.30" y2="127.50" stroke="#999" stroke-width="1.2" />
<line x1="621.60" y1="45.90" x2="635.00" y2="45.90" stroke="#8a8a8a" stroke-width="0.8" />
<line x1="614.00" y1="84.20" x2="635.00" y2="84.20" stroke="#8a8a8a" stroke-width="0.8" />
<line x1="630.80" y1="45.90" x2="630.80" y2="57.60" stroke="#8a8a8a" stroke-width="0.8" />
<line x1="630.80" y1="71.60" x2="630.80" y2="84.20" stroke="#8a8a8a" stroke-width="0.8" />
<polygon points="630.80,45.90 629.25,53.70 632.35,53.70" fill="#111"/>
<polygon points="630.80,84.20 629.25,76.40 632.35,76.40" fill="#111"/>
<text x="630.60" y="69.20" font-size="12.3" text-anchor="middle" fill="#111" stroke="#111" stroke-width="0.25" >265</text>
<line x1="541.70" y1="123.70" x2="560.80" y2="123.70" stroke="#5a5a5a" stroke-width="0.8" />
<polygon points="541.70,123.70 549.50,122.15 549.50,125.25" fill="#111"/>
<line x1="590.00" y1="123.70" x2="610.30" y2="123.70" stroke="#5a5a5a" stroke-width="0.8" />
<polygon points="610.30,123.70 602.50,122.15 602.50,125.25" fill="#111"/>
<text x="574.80" y="128.30" font-size="12.3" text-anchor="middle" fill="#111" stroke="#111" stroke-width="0.25" >470</text>
</g>
<g id="v5">
<line x1="407.50" y1="158.30" x2="407.50" y2="173.00" stroke="#1c1c1c" stroke-width="0.9" />
<line x1="460.80" y1="158.30" x2="460.80" y2="173.00" stroke="#1c1c1c" stroke-width="0.9" />
<line x1="407.50" y1="173.00" x2="407.50" y2="194.50" stroke="#5a5a5a" stroke-width="0.8" stroke-dasharray="7 2"/>
<line x1="460.80" y1="173.00" x2="460.80" y2="194.50" stroke="#5a5a5a" stroke-width="0.8" stroke-dasharray="7 2"/>
<line x1="407.50" y1="163.00" x2="419.20" y2="163.00" stroke="#5a5a5a" stroke-width="0.8" />
<polygon points="407.50,163.00 415.30,161.45 415.30,164.55" fill="#111"/>
<line x1="448.30" y1="163.00" x2="460.80" y2="163.00" stroke="#5a5a5a" stroke-width="0.8" />
<polygon points="460.80,163.00 453.00,161.45 453.00,164.55" fill="#111"/>
<text x="433.40" y="168.10" font-size="12.3" text-anchor="middle" fill="#111" stroke="#111" stroke-width="0.25" >360</text>
<line x1="422.50" y1="173.30" x2="422.50" y2="210.00" stroke="#5a5a5a" stroke-width="0.8" />
<line x1="446.30" y1="173.30" x2="446.30" y2="210.00" stroke="#5a5a5a" stroke-width="0.8" />
<line x1="404.20" y1="178.00" x2="422.50" y2="178.00" stroke="#5a5a5a" stroke-width="0.8" />
<polygon points="422.50,178.00 414.70,176.45 414.70,179.55" fill="#111"/>
<line x1="446.30" y1="178.00" x2="464.20" y2="178.00" stroke="#5a5a5a" stroke-width="0.8" />
<polygon points="446.30,178.00 454.10,176.45 454.10,179.55" fill="#111"/>
<text x="434.20" y="183.10" font-size="12.3" text-anchor="middle" fill="#111" stroke="#111" stroke-width="0.25" >155</text>
<line x1="390.00" y1="194.70" x2="490.80" y2="194.70" stroke="#1c1c1c" stroke-width="1.3" />
<line x1="490.80" y1="194.70" x2="509.20" y2="194.70" stroke="#8a8a8a" stroke-width="0.8" />
<line x1="391.50" y1="194.40" x2="397.80" y2="187.50" stroke="#1c1c1c" stroke-width="0.8" />
<line x1="397.65" y1="194.40" x2="403.95" y2="187.50" stroke="#1c1c1c" stroke-width="0.8" />
<line x1="403.80" y1="194.40" x2="410.10" y2="187.50" stroke="#1c1c1c" stroke-width="0.8" />
<line x1="409.95" y1="194.40" x2="416.25" y2="187.50" stroke="#1c1c1c" stroke-width="0.8" />
<line x1="416.10" y1="194.40" x2="422.40" y2="187.50" stroke="#1c1c1c" stroke-width="0.8" />
<line x1="422.25" y1="194.40" x2="428.55" y2="187.50" stroke="#1c1c1c" stroke-width="0.8" />
<line x1="428.40" y1="194.40" x2="434.70" y2="187.50" stroke="#1c1c1c" stroke-width="0.8" />
<line x1="434.55" y1="194.40" x2="440.85" y2="187.50" stroke="#1c1c1c" stroke-width="0.8" />
<line x1="440.70" y1="194.40" x2="447.00" y2="187.50" stroke="#1c1c1c" stroke-width="0.8" />
<line x1="446.85" y1="194.40" x2="453.15" y2="187.50" stroke="#1c1c1c" stroke-width="0.8" />
<line x1="453.00" y1="194.40" x2="459.30" y2="187.50" stroke="#1c1c1c" stroke-width="0.8" />
<line x1="459.15" y1="194.40" x2="465.45" y2="187.50" stroke="#1c1c1c" stroke-width="0.8" />
<line x1="465.30" y1="194.40" x2="471.60" y2="187.50" stroke="#1c1c1c" stroke-width="0.8" />
<line x1="471.45" y1="194.40" x2="477.75" y2="187.50" stroke="#1c1c1c" stroke-width="0.8" />
<line x1="477.60" y1="194.40" x2="483.90" y2="187.50" stroke="#1c1c1c" stroke-width="0.8" />
<line x1="483.75" y1="194.40" x2="490.05" y2="187.50" stroke="#1c1c1c" stroke-width="0.8" />
<path d="M408,194.7 V248.3 A26.7,26.7 0 0 0 461.4,248.3 V194.7" stroke="#1c1c1c" stroke-width="1.4" fill="none" />
<path d="M409.4,252 A25.3,25.3 0 0 0 459.8,252" stroke="#5a5a5a" stroke-width="0.6" fill="none" />
<circle cx="422.50" cy="211.70" r="1.40" stroke="#1c1c1c" stroke-width="0.8" fill="#fff" />
<circle cx="446.30" cy="211.70" r="1.40" stroke="#1c1c1c" stroke-width="0.8" fill="#fff" />
<path d="M434.4,218.3 C448,218.3 453.7,224.5 453.7,243 C453.7,259 446,268.3 434.4,268.3 C422.8,268.3 415,259 415,243 C415,224.5 420.8,218.3 434.4,218.3 Z" stroke="#1c1c1c" stroke-width="1.0" fill="none" />
<path d="M428.4,231.4 Q428.3,230.3 429.5,230.3 H439.2 Q440.4,230.3 440.3,231.4 L439.8,238.6 Q439.2,244.2 434.3,244.2 Q429.5,244.2 428.9,238.6 Z" stroke="#1c1c1c" stroke-width="0.9" fill="none" />
<line x1="449.70" y1="211.70" x2="486.70" y2="211.70" stroke="#5a5a5a" stroke-width="0.8" />
<line x1="482.50" y1="211.70" x2="482.50" y2="240.00" stroke="#1c1c1c" stroke-width="0.8" />
<line x1="482.50" y1="253.60" x2="482.50" y2="275.00" stroke="#1c1c1c" stroke-width="0.8" />
<polygon points="482.50,211.70 480.95,219.50 484.05,219.50" fill="#111"/>
<polygon points="482.50,275.00 480.95,267.20 484.05,267.20" fill="#111"/>
<text x="482.00" y="251.20" font-size="12.3" text-anchor="middle" fill="#111" stroke="#111" stroke-width="0.25" >430</text>
<line x1="430.00" y1="275.00" x2="509.20" y2="275.00" stroke="#8a8a8a" stroke-width="0.8" />
<line x1="503.80" y1="194.70" x2="503.80" y2="228.50" stroke="#1c1c1c" stroke-width="0.8" />
<line x1="503.80" y1="242.40" x2="503.80" y2="275.00" stroke="#1c1c1c" stroke-width="0.8" />
<polygon points="503.80,194.70 502.25,202.50 505.35,202.50" fill="#111"/>
<polygon points="503.80,275.00 502.25,267.20 505.35,267.20" fill="#111"/>
<text x="503.00" y="239.80" font-size="12.3" text-anchor="middle" fill="#111" stroke="#111" stroke-width="0.25" >540</text>
</g>
<g id="v6">
<line x1="538.30" y1="176.70" x2="538.30" y2="194.20" stroke="#1c1c1c" stroke-width="0.9" />
<line x1="591.70" y1="176.70" x2="591.70" y2="194.20" stroke="#1c1c1c" stroke-width="0.9" />
<line x1="538.30" y1="181.30" x2="553.30" y2="181.30" stroke="#5a5a5a" stroke-width="0.8" />
<polygon points="538.30,181.30 545.30,179.95 545.30,182.65" fill="#111"/>
<line x1="576.70" y1="181.30" x2="591.70" y2="181.30" stroke="#5a5a5a" stroke-width="0.8" />
<polygon points="591.70,181.30 584.70,179.95 584.70,182.65" fill="#111"/>
<text x="565.10" y="185.47" font-size="10.8" text-anchor="middle" fill="#222" stroke="#222" stroke-width="0.09" >361</text>
<path d="M538.3,194.2 V232.8 A26.7,26.7 0 0 0 591.7,232.8 V194.2" stroke="#1c1c1c" stroke-width="1.0" fill="none" />
<line x1="538.30" y1="194.20" x2="591.70" y2="194.20" stroke="#1c1c1c" stroke-width="1.5" />
<path d="M565.6,205 C575,205 581.7,211.6 581.7,227 C581.7,240.2 575,248.3 565.6,248.3 C556.2,248.3 549.5,240.2 549.5,227 C549.5,211.6 556.2,205 565.6,205 Z" stroke="#5a5a5a" stroke-width="0.8" fill="none" stroke-dasharray="8 2"/>
<line x1="565.50" y1="190.80" x2="565.50" y2="263.30" stroke="#8a8a8a" stroke-width="0.7" stroke-dasharray="9 1.5 1.5 1.5"/>
<line x1="561.70" y1="205.00" x2="615.00" y2="205.00" stroke="#5a5a5a" stroke-width="0.8" />
<line x1="561.70" y1="248.30" x2="615.00" y2="248.30" stroke="#5a5a5a" stroke-width="0.8" />
<line x1="610.50" y1="205.00" x2="610.50" y2="221.40" stroke="#1c1c1c" stroke-width="0.8" />
<line x1="610.50" y1="233.40" x2="610.50" y2="248.30" stroke="#1c1c1c" stroke-width="0.8" />
<polygon points="610.50,205.00 609.15,212.00 611.85,212.00" fill="#111"/>
<polygon points="610.50,248.30 609.15,241.30 611.85,241.30" fill="#111"/>
<text x="610.20" y="231.47" font-size="10.8" text-anchor="middle" fill="#222" stroke="#222" stroke-width="0.09" >295</text>
<line x1="591.70" y1="194.20" x2="638.30" y2="194.20" stroke="#5a5a5a" stroke-width="0.8" />
<line x1="565.00" y1="259.60" x2="638.30" y2="259.60" stroke="#5a5a5a" stroke-width="0.8" />
<line x1="633.70" y1="194.20" x2="633.70" y2="221.40" stroke="#1c1c1c" stroke-width="0.8" />
<line x1="633.70" y1="233.40" x2="633.70" y2="259.60" stroke="#1c1c1c" stroke-width="0.8" />
<polygon points="633.70,194.20 632.35,201.20 635.05,201.20" fill="#111"/>
<polygon points="633.70,259.60 632.35,252.60 635.05,252.60" fill="#111"/>
<text x="633.60" y="231.47" font-size="10.8" text-anchor="middle" fill="#222" stroke="#222" stroke-width="0.09" >446</text>
<line x1="549.50" y1="228.00" x2="549.50" y2="286.70" stroke="#5a5a5a" stroke-width="0.8" />
<line x1="581.30" y1="232.00" x2="581.30" y2="246.00" stroke="#5a5a5a" stroke-width="0.8" />
<line x1="581.30" y1="263.30" x2="581.30" y2="286.70" stroke="#1c1c1c" stroke-width="0.9" />
<line x1="549.50" y1="282.80" x2="613.80" y2="282.80" stroke="#5a5a5a" stroke-width="0.8" />
<polygon points="549.50,282.80 556.50,281.45 556.50,284.15" fill="#111"/>
<polygon points="581.30,282.80 574.30,281.45 574.30,284.15" fill="#111"/>
<text x="602.30" y="281.37" font-size="10.8" text-anchor="middle" fill="#222" stroke="#222" stroke-width="0.09" >218</text>
</g>
<g id="v7">
<text x="658.20" y="185.29" font-size="10.3" text-anchor="middle" fill="#222" stroke="#222" stroke-width="0.08" >46</text>
<path d="M666.3,181.2 H677.5 V200" stroke="#5a5a5a" stroke-width="0.8" fill="none" />
<polygon points="677.50,200.00 676.15,193.00 678.85,193.00" fill="#111"/>
<line x1="674.20" y1="200.00" x2="684.20" y2="200.00" stroke="#8a8a8a" stroke-width="0.8" />
<line x1="674.20" y1="206.30" x2="684.20" y2="206.30" stroke="#8a8a8a" stroke-width="0.8" />
<line x1="677.50" y1="206.30" x2="677.50" y2="221.70" stroke="#5a5a5a" stroke-width="0.8" />
<polygon points="677.50,206.30 676.15,213.30 678.85,213.30" fill="#111"/>
<path d="M684.2,200.4 Q684,199.8 685,199.8 L700,200.2 L749.2,202.6 Q749.9,203.4 749.4,204.4 L740,205.6 H684.4 Z" stroke="#1c1c1c" stroke-width="0.9" fill="#fff" />
<path d="M684.6,200.5 L732,201.9" stroke="#1c1c1c" stroke-width="1.5" fill="none" />
<path d="M684.4,203 L748,203.7" stroke="#1c1c1c" stroke-width="0.8" fill="none" />
<line x1="694.20" y1="205.90" x2="740.00" y2="205.90" stroke="#1c1c1c" stroke-width="1.4" />
<line x1="684.20" y1="200.40" x2="684.20" y2="207.00" stroke="#1c1c1c" stroke-width="1.2" />
<rect x="683.80" y="205.60" width="4.40" height="5.20" rx="0.8" stroke="#1c1c1c" stroke-width="0.6" fill="#222" />
<line x1="685.90" y1="204.00" x2="685.90" y2="212.80" stroke="#1c1c1c" stroke-width="1.2" />
<line x1="683.50" y1="208.70" x2="688.60" y2="208.70" stroke="#1c1c1c" stroke-width="0.9" />
<line x1="685.30" y1="210.00" x2="685.30" y2="223.30" stroke="#5a5a5a" stroke-width="0.8" />
<line x1="749.50" y1="204.00" x2="749.50" y2="223.30" stroke="#1c1c1c" stroke-width="0.9" />
<line x1="685.30" y1="219.70" x2="705.00" y2="219.70" stroke="#5a5a5a" stroke-width="0.8" />
<polygon points="685.30,219.70 692.30,218.35 692.30,221.05" fill="#111"/>
<line x1="729.20" y1="219.70" x2="749.50" y2="219.70" stroke="#5a5a5a" stroke-width="0.8" />
<polygon points="749.50,219.70 742.50,218.35 742.50,221.05" fill="#111"/>
<text x="717.10" y="223.69" font-size="10.3" text-anchor="middle" fill="#222" stroke="#222" stroke-width="0.08" >431</text>
<text x="740.30" y="183.89" font-size="10.3" text-anchor="middle" fill="#222" stroke="#222" stroke-width="0.08" >10</text>
<path d="M748.3,180.2 H760.5 V202.5" stroke="#1c1c1c" stroke-width="0.8" fill="none" />
<polygon points="760.50,202.50 759.15,195.50 761.85,195.50" fill="#111"/>
<line x1="760.50" y1="205.00" x2="760.50" y2="220.50" stroke="#5a5a5a" stroke-width="0.8" />
<polygon points="760.50,205.00 759.15,212.00 761.85,212.00" fill="#111"/>
<line x1="750.50" y1="202.30" x2="756.00" y2="202.30" stroke="#8a8a8a" stroke-width="0.8" />
<line x1="749.00" y1="204.50" x2="764.00" y2="204.50" stroke="#1c1c1c" stroke-width="1.0" />
<text x="792.40" y="183.89" font-size="10.3" text-anchor="middle" fill="#222" stroke="#222" stroke-width="0.08" >24</text>
<path d="M784.5,179.8 H773.2 V202.2" stroke="#8a8a8a" stroke-width="0.8" fill="none" />
<polygon points="773.20,202.20 771.85,195.20 774.55,195.20" fill="#111"/>
<line x1="764.20" y1="202.20" x2="776.80" y2="202.20" stroke="#1c1c1c" stroke-width="0.8" />
<line x1="764.00" y1="205.20" x2="776.80" y2="205.20" stroke="#8a8a8a" stroke-width="0.8" />
<line x1="773.20" y1="205.20" x2="773.20" y2="220.50" stroke="#8a8a8a" stroke-width="0.8" />
<polygon points="773.20,205.20 771.85,212.20 774.55,212.20" fill="#111"/>
</g>
<g id="v8">
<path d="M539.3,322.4 Q539.3,320.9 541,320.7 Q566,318.4 591,320.7 Q592.7,320.9 592.7,322.4 V324.8 Q592.7,326 591.2,326 H540.8 Q539.3,326 539.3,324.8 Z" stroke="#1c1c1c" stroke-width="0.9" fill="#fff" />
<line x1="539.60" y1="322.10" x2="592.40" y2="322.10" stroke="#1c1c1c" stroke-width="0.7" />
<line x1="539.40" y1="323.80" x2="592.60" y2="323.80" stroke="#1c1c1c" stroke-width="1.0" />
<line x1="540.20" y1="325.70" x2="591.80" y2="325.70" stroke="#1c1c1c" stroke-width="1.3" />
<polygon points="554.30,326.90 553.30,333.40 555.30,333.40" fill="#111"/>
<polygon points="577.20,326.90 576.20,333.40 578.20,333.40" fill="#111"/>
<line x1="554.30" y1="326.90" x2="554.30" y2="341.00" stroke="#1c1c1c" stroke-width="0.9" />
<line x1="577.20" y1="326.90" x2="577.20" y2="341.00" stroke="#1c1c1c" stroke-width="0.9" />
<line x1="539.90" y1="337.30" x2="554.30" y2="337.30" stroke="#5a5a5a" stroke-width="0.8" />
<polygon points="554.30,337.30 547.30,335.95 547.30,338.65" fill="#111"/>
<line x1="577.20" y1="337.30" x2="592.10" y2="337.30" stroke="#5a5a5a" stroke-width="0.8" />
<polygon points="577.20,337.30 584.20,335.95 584.20,338.65" fill="#111"/>
<text x="566.40" y="341.37" font-size="10.8" text-anchor="middle" fill="#222" stroke="#222" stroke-width="0.09" >155</text>
</g>
<g id="v9">
<line x1="432.20" y1="400.00" x2="432.20" y2="428.70" stroke="#5a5a5a" stroke-width="0.8" />
<line x1="549.20" y1="400.00" x2="549.20" y2="428.70" stroke="#5a5a5a" stroke-width="0.8" />
<line x1="432.20" y1="407.50" x2="469.70" y2="407.50" stroke="#5a5a5a" stroke-width="0.8" />
<polygon points="432.20,407.50 445.50,405.00 445.50,410.00" fill="#111"/>
<line x1="511.80" y1="407.50" x2="549.20" y2="407.50" stroke="#5a5a5a" stroke-width="0.8" />
<polygon points="549.20,407.50 535.90,405.00 535.90,410.00" fill="#111"/>
<text x="491.20" y="414.53" font-size="18.8" text-anchor="middle" fill="#1c1c1c"  >156</text>
<rect x="431.80" y="428.70" width="117.50" height="147.60" rx="2.2" stroke="#1c1c1c" stroke-width="1.3" fill="none" />
<line x1="400.80" y1="428.70" x2="431.70" y2="428.70" stroke="#5a5a5a" stroke-width="0.8" />
<line x1="400.80" y1="576.30" x2="431.70" y2="576.30" stroke="#5a5a5a" stroke-width="0.8" />
<line x1="407.50" y1="428.70" x2="407.50" y2="492.00" stroke="#5a5a5a" stroke-width="0.8" />
<line x1="407.50" y1="513.30" x2="407.50" y2="576.30" stroke="#5a5a5a" stroke-width="0.8" />
<polygon points="407.50,428.70 405.00,442.00 410.00,442.00" fill="#111"/>
<polygon points="407.50,576.30 405.00,563.00 410.00,563.00" fill="#111"/>
<text x="408.10" y="509.33" font-size="18.8" text-anchor="middle" fill="#1c1c1c"  >197</text>
<rect x="460.40" y="461.30" width="60.40" height="82.40" rx="3.2" stroke="#1c1c1c" stroke-width="0.8" fill="none" />
<rect x="461.60" y="462.60" width="58.00" height="79.80" rx="2.4" stroke="#8a8a8a" stroke-width="0.7" fill="none" />
<rect x="464.50" y="465.30" width="52.50" height="75.00" rx="0.6" stroke="#1c1c1c" stroke-width="1.3" fill="none" />
<line x1="464.50" y1="487.20" x2="517.00" y2="487.20" stroke="#1c1c1c" stroke-width="1.3" />
<path d="M485.8,531.6 H496.2 Q496,535.6 491,535.6 Q486,535.6 485.8,531.6 Z" stroke="#1c1c1c" stroke-width="0.5" fill="#222" />
<line x1="487.00" y1="533.40" x2="495.00" y2="533.40" stroke="#ccc" stroke-width="0.4" />
<line x1="608.30" y1="404.20" x2="608.30" y2="428.70" stroke="#5a5a5a" stroke-width="0.8" />
<line x1="616.30" y1="404.20" x2="616.30" y2="428.70" stroke="#5a5a5a" stroke-width="0.8" />
<line x1="608.30" y1="428.70" x2="608.30" y2="576.30" stroke="#1c1c1c" stroke-width="1.2" />
<path d="M608.3,428.7 H615.4 Q616.2,428.7 616.2,429.6 V575.4 Q616.2,576.3 615.4,576.3 H608.3" stroke="#1c1c1c" stroke-width="1.0" fill="none" />
<line x1="617.30" y1="465.00" x2="617.30" y2="540.00" stroke="#1c1c1c" stroke-width="1.2" />
<line x1="617.80" y1="452.00" x2="617.80" y2="465.00" stroke="#8a8a8a" stroke-width="0.6" />
<line x1="617.80" y1="540.00" x2="617.80" y2="576.00" stroke="#8a8a8a" stroke-width="0.6" />
<line x1="608.30" y1="576.30" x2="608.30" y2="608.40" stroke="#5a5a5a" stroke-width="0.8" />
<line x1="617.30" y1="540.00" x2="617.30" y2="608.40" stroke="#8a8a8a" stroke-width="0.8" />
<line x1="596.80" y1="435.50" x2="608.00" y2="425.50" stroke="#8a8a8a" stroke-width="0.8" />
<line x1="596.80" y1="445.20" x2="608.00" y2="435.20" stroke="#8a8a8a" stroke-width="0.8" />
<line x1="596.80" y1="454.90" x2="608.00" y2="444.90" stroke="#8a8a8a" stroke-width="0.8" />
<line x1="596.80" y1="464.60" x2="608.00" y2="454.60" stroke="#8a8a8a" stroke-width="0.8" />
<line x1="596.80" y1="474.30" x2="608.00" y2="464.30" stroke="#8a8a8a" stroke-width="0.8" />
<line x1="596.80" y1="484.00" x2="608.00" y2="474.00" stroke="#8a8a8a" stroke-width="0.8" />
<line x1="596.80" y1="493.70" x2="608.00" y2="483.70" stroke="#8a8a8a" stroke-width="0.8" />
<line x1="596.80" y1="503.40" x2="608.00" y2="493.40" stroke="#8a8a8a" stroke-width="0.8" />
<line x1="596.80" y1="513.10" x2="608.00" y2="503.10" stroke="#8a8a8a" stroke-width="0.8" />
<line x1="596.80" y1="522.80" x2="608.00" y2="512.80" stroke="#8a8a8a" stroke-width="0.8" />
<line x1="596.80" y1="532.50" x2="608.00" y2="522.50" stroke="#8a8a8a" stroke-width="0.8" />
<line x1="596.80" y1="542.20" x2="608.00" y2="532.20" stroke="#8a8a8a" stroke-width="0.8" />
<line x1="596.80" y1="551.90" x2="608.00" y2="541.90" stroke="#8a8a8a" stroke-width="0.8" />
<line x1="596.80" y1="561.60" x2="608.00" y2="551.60" stroke="#8a8a8a" stroke-width="0.8" />
<line x1="596.80" y1="571.30" x2="608.00" y2="561.30" stroke="#8a8a8a" stroke-width="0.8" />
<line x1="599.04" y1="579.00" x2="608.00" y2="571.00" stroke="#8a8a8a" stroke-width="0.8" />
<line x1="581.30" y1="411.30" x2="608.30" y2="411.30" stroke="#5a5a5a" stroke-width="0.8" />
<polygon points="608.30,411.30 595.00,408.80 595.00,413.80" fill="#111"/>
<line x1="616.30" y1="411.30" x2="661.70" y2="411.30" stroke="#5a5a5a" stroke-width="0.8" />
<polygon points="616.30,411.30 629.60,408.80 629.60,413.80" fill="#111"/>
<text x="645.80" y="408.13" font-size="18.8" text-anchor="middle" fill="#1c1c1c"  >10</text>
<line x1="581.30" y1="600.80" x2="608.30" y2="600.80" stroke="#5a5a5a" stroke-width="0.8" />
<polygon points="608.30,600.80 595.00,598.30 595.00,603.30" fill="#111"/>
<line x1="617.30" y1="600.80" x2="661.70" y2="600.80" stroke="#5a5a5a" stroke-width="0.8" />
<polygon points="617.30,600.80 630.60,598.30 630.60,603.30" fill="#111"/>
<text x="647.00" y="598.13" font-size="18.8" text-anchor="middle" fill="#1c1c1c"  >12</text>
</g>
</svg>
</body></html>
